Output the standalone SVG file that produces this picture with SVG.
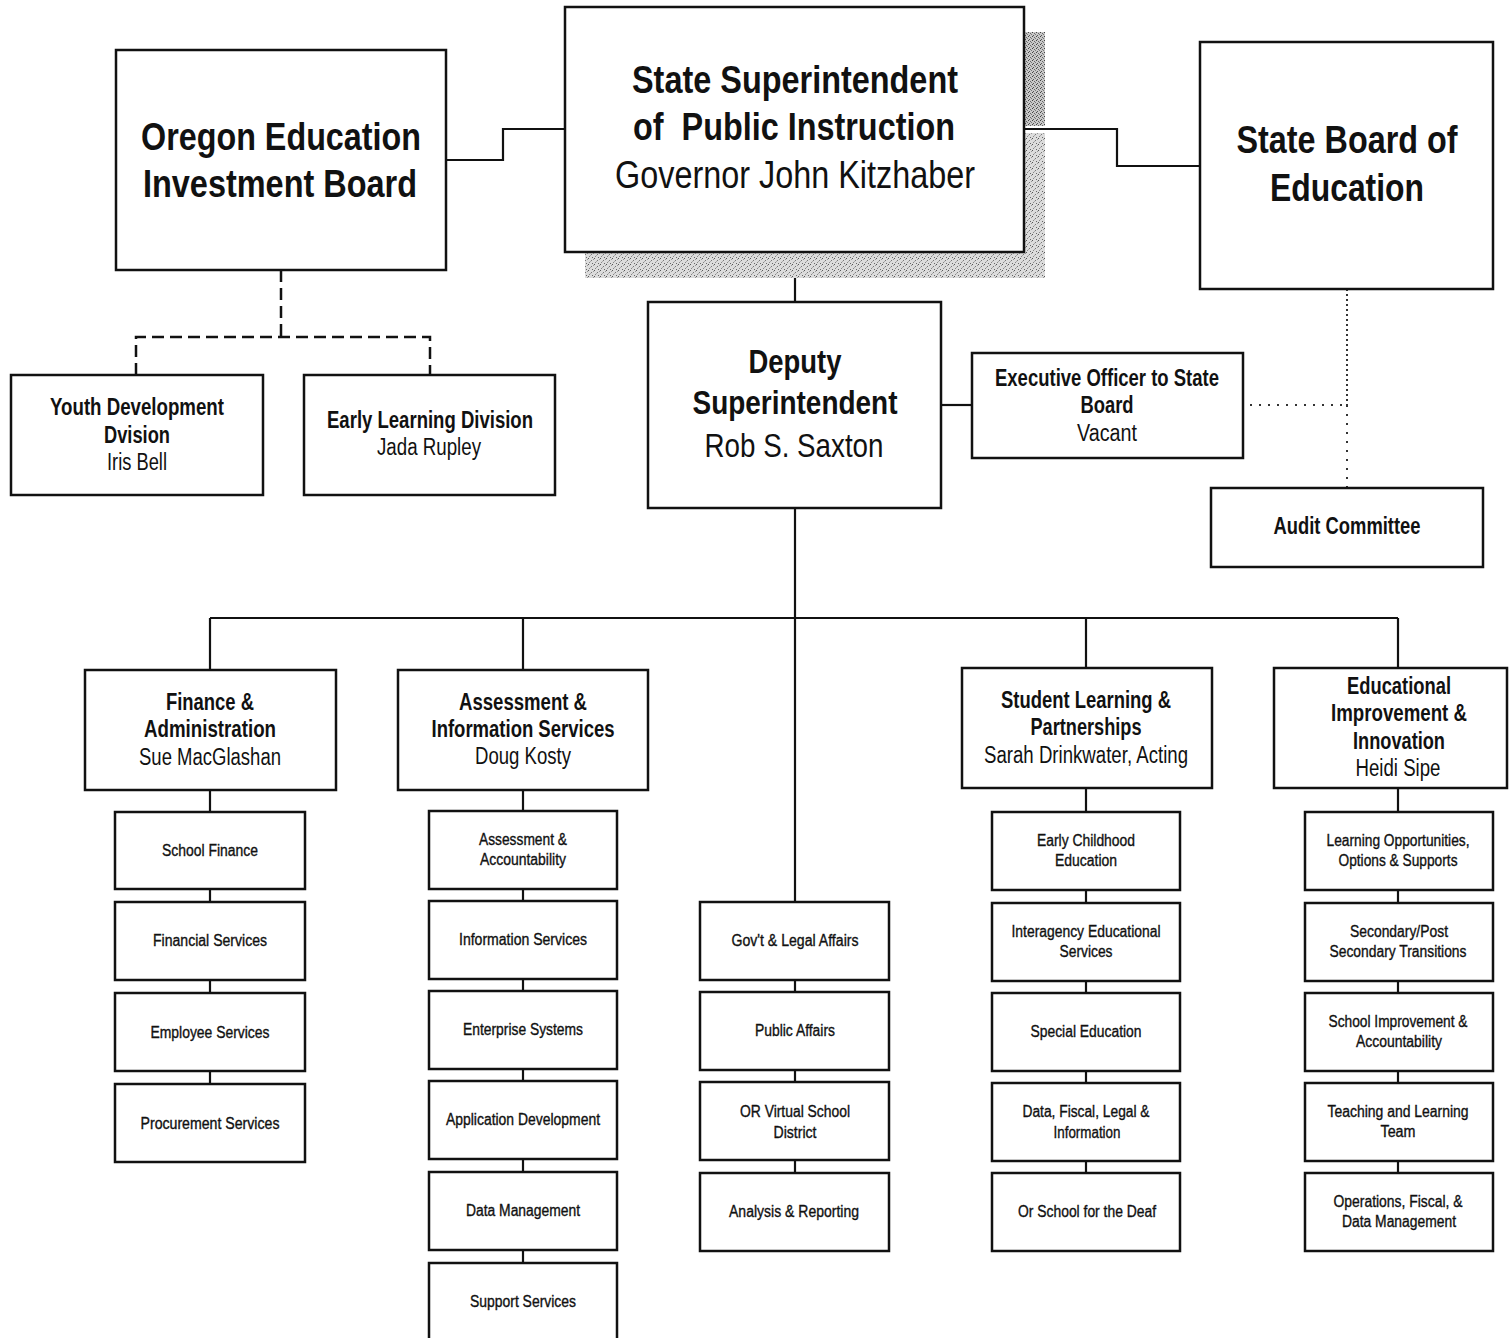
<svg xmlns="http://www.w3.org/2000/svg" width="1509" height="1338" viewBox="0 0 1509 1338">
<style>
.box{fill:#fff;stroke:#111;stroke-width:2.5}
.ln{fill:none;stroke:#111;stroke-width:2.2}
.dash{fill:none;stroke:#111;stroke-width:2.5;stroke-dasharray:12 6}
.dot{fill:none;stroke:#333;stroke-width:2;stroke-dasharray:2 7}
.dot2{fill:none;stroke:#333;stroke-width:2;stroke-dasharray:2 3}
text{font-family:"Liberation Sans",Arial,sans-serif;text-anchor:middle;fill:#111}
.b{font-weight:bold}
.xl{font-size:39px}
.lg{font-size:33px}
.md{font-size:23px}
.sm{font-size:16px;stroke:#111;stroke-width:0.35}
</style>
<defs>
<pattern id="stip" width="6" height="6" patternUnits="userSpaceOnUse">
<rect width="6" height="6" fill="#dcdcdc"/>
<rect x="0" y="0" width="1" height="1" fill="#555"/>
<rect x="3" y="2" width="1" height="1" fill="#777"/>
<rect x="1" y="4" width="1" height="1" fill="#888"/>
<rect x="4" y="5" width="1" height="1" fill="#666"/>
<rect x="5" y="1" width="1" height="1" fill="#999"/>
<rect x="2" y="3" width="1" height="1" fill="#aaa"/>
</pattern>
<pattern id="stip2" width="4" height="4" patternUnits="userSpaceOnUse">
<rect width="4" height="4" fill="#c8c8c8"/>
<rect x="0" y="0" width="1" height="1" fill="#444"/>
<rect x="2" y="1" width="1" height="1" fill="#666"/>
<rect x="1" y="3" width="1" height="1" fill="#555"/>
<rect x="3" y="2" width="1" height="1" fill="#777"/>
</pattern>
</defs>
<rect width="1509" height="1338" fill="#fff"/>

<g id="connectors">
<polyline class="ln" points="446,160 503,160 503,129 565,129"/>
<polyline class="ln" points="1024,129 1117,129 1117,166 1200,166"/>
<line class="ln" x1="795" y1="252" x2="795" y2="302"/>
<line class="ln" x1="941" y1="405" x2="972" y2="405"/>
<polyline class="dash" points="281,270 281,337"/>
<polyline class="dash" points="136,375 136,337 430,337 430,375"/>
<line class="dot2" x1="1347" y1="289" x2="1347" y2="405"/>
<line class="dot" x1="1347" y1="405" x2="1347" y2="488"/>
<line class="dot" x1="1250" y1="405" x2="1347" y2="405"/>
<line class="ln" x1="795" y1="508" x2="795" y2="1173"/>
<line class="ln" x1="210" y1="618" x2="1398" y2="618"/>
<line class="ln" x1="210" y1="618" x2="210" y2="1084"/>
<line class="ln" x1="523" y1="618" x2="523" y2="1263"/>
<line class="ln" x1="1086" y1="618" x2="1086" y2="1173"/>
<line class="ln" x1="1398" y1="618" x2="1398" y2="1173"/>
</g>

<g id="oeib">
<rect class="box" x="116" y="50" width="330" height="220"/>
<text class="b xl" x="281" y="150" textLength="280" lengthAdjust="spacingAndGlyphs">Oregon Education</text>
<text class="b xl" x="280" y="197" textLength="274" lengthAdjust="spacingAndGlyphs">Investment Board</text>
</g>

<g id="state-superintendent">
<rect x="1024" y="32" width="21" height="94" fill="url(#stip2)"/>
<rect x="1024" y="133" width="21" height="145" fill="url(#stip)"/>
<rect x="585" y="252" width="460" height="26" fill="url(#stip)"/>
<rect class="box" x="565" y="7" width="459" height="245"/>
<text class="b xl" x="795" y="93" textLength="326" lengthAdjust="spacingAndGlyphs">State Superintendent</text>
<text class="b xl" x="794" y="140" textLength="322" lengthAdjust="spacingAndGlyphs" xml:space="preserve">of  Public Instruction</text>
<text class="xl" x="795" y="188" font-size="36" textLength="360" lengthAdjust="spacingAndGlyphs">Governor John Kitzhaber</text>
</g>

<g id="state-board">
<rect class="box" x="1200" y="42" width="293" height="247"/>
<text class="b xl" x="1347" y="153" textLength="221" lengthAdjust="spacingAndGlyphs">State Board of</text>
<text class="b xl" x="1347" y="201" textLength="154" lengthAdjust="spacingAndGlyphs">Education</text>
</g>

<g id="deputy">
<rect class="box" x="648" y="302" width="293" height="206"/>
<text class="b lg" x="795" y="373" textLength="93" lengthAdjust="spacingAndGlyphs">Deputy</text>
<text class="b lg" x="795" y="414" textLength="205" lengthAdjust="spacingAndGlyphs">Superintendent</text>
<text class="lg" x="794" y="457" textLength="179" lengthAdjust="spacingAndGlyphs">Rob S. Saxton</text>
</g>

<g id="exec-officer">
<rect class="box" x="972" y="353" width="271" height="105"/>
<text class="b md" x="1107" y="386" textLength="224" lengthAdjust="spacingAndGlyphs">Executive Officer to State</text>
<text class="b md" x="1107" y="413" textLength="53" lengthAdjust="spacingAndGlyphs">Board</text>
<text class="md" x="1107" y="441" textLength="60" lengthAdjust="spacingAndGlyphs">Vacant</text>
</g>

<g id="audit">
<rect class="box" x="1211" y="488" width="272" height="79"/>
<text class="b md" x="1347" y="534" textLength="147" lengthAdjust="spacingAndGlyphs">Audit Committee</text>
</g>

<g id="youth">
<rect class="box" x="11" y="375" width="252" height="120"/>
<text class="b md" x="137" y="415" textLength="174" lengthAdjust="spacingAndGlyphs">Youth Development</text>
<text class="b md" x="137" y="443" textLength="66" lengthAdjust="spacingAndGlyphs">Dvision</text>
<text class="md" x="137" y="470" textLength="60" lengthAdjust="spacingAndGlyphs">Iris Bell</text>
</g>

<g id="early-learning">
<rect class="box" x="304" y="375" width="251" height="120"/>
<text class="b md" x="430" y="428" textLength="206" lengthAdjust="spacingAndGlyphs">Early Learning Division</text>
<text class="md" x="429" y="455" textLength="104" lengthAdjust="spacingAndGlyphs">Jada Rupley</text>
</g>

<g id="finance">
<rect class="box" x="85" y="670" width="251" height="120"/>
<text class="b md" x="210" y="710" textLength="88" lengthAdjust="spacingAndGlyphs">Finance &amp;</text>
<text class="b md" x="210" y="737" textLength="132" lengthAdjust="spacingAndGlyphs">Administration</text>
<text class="md" x="210" y="765" textLength="142" lengthAdjust="spacingAndGlyphs">Sue MacGlashan</text>
</g>

<g id="assessment">
<rect class="box" x="398" y="670" width="250" height="120"/>
<text class="b md" x="523" y="710" textLength="128" lengthAdjust="spacingAndGlyphs">Assessment &amp;</text>
<text class="b md" x="523" y="737" textLength="183" lengthAdjust="spacingAndGlyphs">Information Services</text>
<text class="md" x="523" y="764" textLength="96" lengthAdjust="spacingAndGlyphs">Doug Kosty</text>
</g>

<g id="student-learning">
<rect class="box" x="962" y="668" width="250" height="120"/>
<text class="b md" x="1086" y="708" textLength="170" lengthAdjust="spacingAndGlyphs">Student Learning &amp;</text>
<text class="b md" x="1086" y="735" textLength="111" lengthAdjust="spacingAndGlyphs">Partnerships</text>
<text class="md" x="1086" y="763" textLength="204" lengthAdjust="spacingAndGlyphs">Sarah Drinkwater, Acting</text>
</g>

<g id="educational-improvement">
<rect class="box" x="1274" y="668" width="233" height="120"/>
<text class="b md" x="1399" y="694" textLength="104" lengthAdjust="spacingAndGlyphs">Educational</text>
<text class="b md" x="1399" y="721" textLength="136" lengthAdjust="spacingAndGlyphs">Improvement &amp;</text>
<text class="b md" x="1399" y="749" textLength="92" lengthAdjust="spacingAndGlyphs">Innovation</text>
<text class="md" x="1398" y="776" textLength="85" lengthAdjust="spacingAndGlyphs">Heidi Sipe</text>
</g>

<g id="school-finance"><rect class="box" x="115" y="812" width="190" height="77"/><text class="sm" x="210" y="856" textLength="96" lengthAdjust="spacingAndGlyphs">School Finance</text></g>
<g id="financial-services"><rect class="box" x="115" y="902" width="190" height="78"/><text class="sm" x="210" y="946" textLength="114" lengthAdjust="spacingAndGlyphs">Financial Services</text></g>
<g id="employee-services"><rect class="box" x="115" y="993" width="190" height="78"/><text class="sm" x="210" y="1038" textLength="119" lengthAdjust="spacingAndGlyphs">Employee Services</text></g>
<g id="procurement-services"><rect class="box" x="115" y="1084" width="190" height="78"/><text class="sm" x="210" y="1129" textLength="139" lengthAdjust="spacingAndGlyphs">Procurement Services</text></g>

<g id="assessment-accountability"><rect class="box" x="429" y="811" width="188" height="78"/><text class="sm" x="523" y="845" textLength="88" lengthAdjust="spacingAndGlyphs">Assessment &amp;</text><text class="sm" x="523" y="865" textLength="86" lengthAdjust="spacingAndGlyphs">Accountability</text></g>
<g id="information-services"><rect class="box" x="429" y="901" width="188" height="78"/><text class="sm" x="523" y="945" textLength="128" lengthAdjust="spacingAndGlyphs">Information Services</text></g>
<g id="enterprise-systems"><rect class="box" x="429" y="991" width="188" height="78"/><text class="sm" x="523" y="1035" textLength="120" lengthAdjust="spacingAndGlyphs">Enterprise Systems</text></g>
<g id="application-development"><rect class="box" x="429" y="1081" width="188" height="78"/><text class="sm" x="523" y="1125" textLength="154" lengthAdjust="spacingAndGlyphs">Application Development</text></g>
<g id="data-management"><rect class="box" x="429" y="1172" width="188" height="78"/><text class="sm" x="523" y="1216" textLength="114" lengthAdjust="spacingAndGlyphs">Data Management</text></g>
<g id="support-services"><rect class="box" x="429" y="1263" width="188" height="84"/><text class="sm" x="523" y="1307" textLength="106" lengthAdjust="spacingAndGlyphs">Support Services</text></g>

<g id="govt-legal"><rect class="box" x="700" y="902" width="189" height="78"/><text class="sm" x="795" y="946" textLength="127" lengthAdjust="spacingAndGlyphs">Gov't &amp; Legal Affairs</text></g>
<g id="public-affairs"><rect class="box" x="700" y="992" width="189" height="78"/><text class="sm" x="795" y="1036" textLength="80" lengthAdjust="spacingAndGlyphs">Public Affairs</text></g>
<g id="or-virtual"><rect class="box" x="700" y="1082" width="189" height="78"/><text class="sm" x="795" y="1117" textLength="110" lengthAdjust="spacingAndGlyphs">OR Virtual School</text><text class="sm" x="795" y="1138" textLength="43" lengthAdjust="spacingAndGlyphs">District</text></g>
<g id="analysis-reporting"><rect class="box" x="700" y="1173" width="189" height="78"/><text class="sm" x="794" y="1217" textLength="130" lengthAdjust="spacingAndGlyphs">Analysis &amp; Reporting</text></g>

<g id="early-childhood"><rect class="box" x="992" y="812" width="188" height="78"/><text class="sm" x="1086" y="846" textLength="98" lengthAdjust="spacingAndGlyphs">Early Childhood</text><text class="sm" x="1086" y="866" textLength="62" lengthAdjust="spacingAndGlyphs">Education</text></g>
<g id="interagency"><rect class="box" x="992" y="903" width="188" height="78"/><text class="sm" x="1086" y="937" textLength="149" lengthAdjust="spacingAndGlyphs">Interagency Educational</text><text class="sm" x="1086" y="957" textLength="53" lengthAdjust="spacingAndGlyphs">Services</text></g>
<g id="special-education"><rect class="box" x="992" y="993" width="188" height="78"/><text class="sm" x="1086" y="1037" textLength="111" lengthAdjust="spacingAndGlyphs">Special Education</text></g>
<g id="data-fiscal-legal"><rect class="box" x="992" y="1083" width="188" height="78"/><text class="sm" x="1086" y="1117" textLength="127" lengthAdjust="spacingAndGlyphs">Data, Fiscal, Legal &amp;</text><text class="sm" x="1087" y="1138" textLength="67" lengthAdjust="spacingAndGlyphs">Information</text></g>
<g id="school-deaf"><rect class="box" x="992" y="1173" width="188" height="78"/><text class="sm" x="1087" y="1217" textLength="138" lengthAdjust="spacingAndGlyphs">Or School for the Deaf</text></g>

<g id="learning-opportunities"><rect class="box" x="1305" y="812" width="188" height="78"/><text class="sm" x="1398" y="846" textLength="143" lengthAdjust="spacingAndGlyphs">Learning Opportunities,</text><text class="sm" x="1398" y="866" textLength="119" lengthAdjust="spacingAndGlyphs">Options &amp; Supports</text></g>
<g id="secondary-transitions"><rect class="box" x="1305" y="903" width="188" height="78"/><text class="sm" x="1399" y="937" textLength="98" lengthAdjust="spacingAndGlyphs">Secondary/Post</text><text class="sm" x="1398" y="957" textLength="137" lengthAdjust="spacingAndGlyphs">Secondary Transitions</text></g>
<g id="school-improvement"><rect class="box" x="1305" y="993" width="188" height="78"/><text class="sm" x="1398" y="1027" textLength="139" lengthAdjust="spacingAndGlyphs">School Improvement &amp;</text><text class="sm" x="1399" y="1047" textLength="86" lengthAdjust="spacingAndGlyphs">Accountability</text></g>
<g id="teaching-learning"><rect class="box" x="1305" y="1083" width="188" height="78"/><text class="sm" x="1398" y="1117" textLength="141" lengthAdjust="spacingAndGlyphs">Teaching and Learning</text><text class="sm" x="1398" y="1137" textLength="35" lengthAdjust="spacingAndGlyphs">Team</text></g>
<g id="operations-fiscal"><rect class="box" x="1305" y="1173" width="188" height="78"/><text class="sm" x="1398" y="1207" textLength="129" lengthAdjust="spacingAndGlyphs">Operations, Fiscal, &amp;</text><text class="sm" x="1399" y="1227" textLength="114" lengthAdjust="spacingAndGlyphs">Data Management</text></g>
</svg>
